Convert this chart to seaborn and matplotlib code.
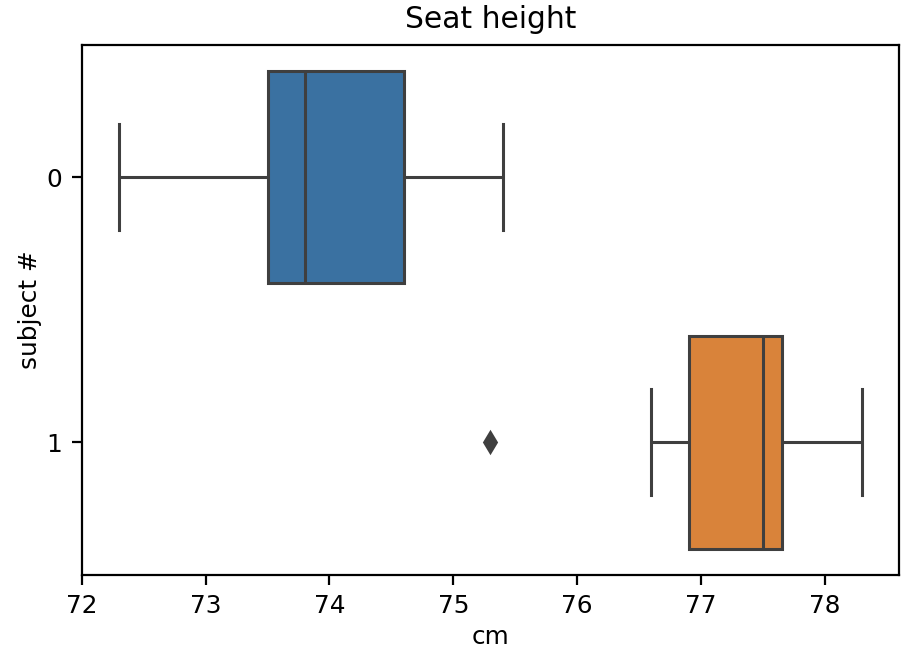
import pandas as pd
import matplotlib
matplotlib.use('Agg')
import matplotlib.pyplot as plt
import seaborn as sns

# seat height measurements per subject (cm)
subject_0 = [72.3, 73.5, 73.8, 74.6, 75.4]
subject_1 = [75.3, 76.6, 76.9, 77.2, 77.5, 77.6, 77.65, 78.0, 78.3]
subjects = ['0', '1']

df = pd.DataFrame({
    'subject': [subjects[0]] * len(subject_0) + [subjects[1]] * len(subject_1),
    'cm': subject_0 + subject_1,
})

plt.rcParams['font.size'] = 8.9
plt.rcParams['axes.titlesize'] = 10.7

fig, ax = plt.subplots(figsize=(4.505, 3.245), dpi=200)
fig.subplots_adjust(left=0.0907, right=0.998, top=0.931, bottom=0.114)

sns.boxplot(data=df, x='cm', y='subject', hue='subject', order=subjects,
            palette=['#3a71a1', '#d9833a'], saturation=1, legend=False,
            orient='h', width=0.8, linecolor='#3f3f3f', linewidth=1.1,
            flierprops=dict(marker='d', markersize=5,
                            markerfacecolor='#3f3f3f', markeredgecolor='#3f3f3f'),
            ax=ax)

ax.set_title('Seat height')
ax.set_xlabel('cm', labelpad=2.2)
ax.set_ylabel('subject #', labelpad=1.8)

fig.savefig('out.png', dpi=200)
